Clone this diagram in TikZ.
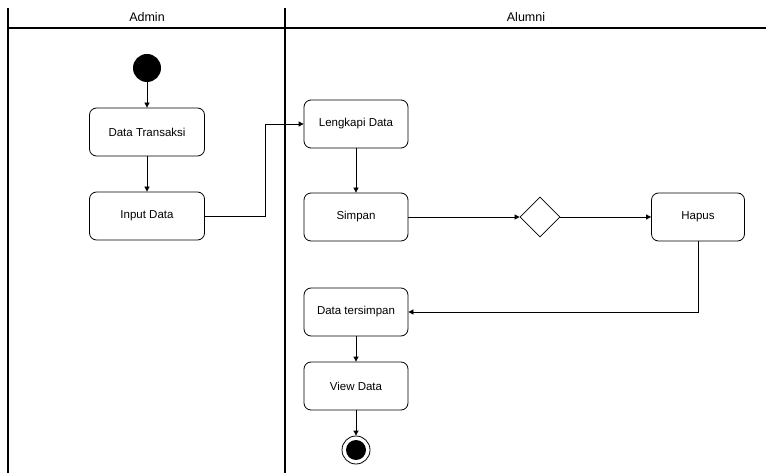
\documentclass[tikz,border=0pt]{standalone}
\usepackage{fontspec}
\setmainfont{Liberation Sans}
\usetikzlibrary{shapes.geometric,arrows.meta}
\begin{document}
\begin{tikzpicture}[x=1pt,y=-1pt,
  act/.style={draw,thick,rounded corners=7pt,minimum width=104pt,minimum height=48pt,inner sep=2pt,font=\fontsize{11.5}{13}\selectfont},
  lane/.style={line width=1.5pt},
  flow/.style={thick,-{Triangle[length=5pt,width=5pt]}},
  lbl/.style={font=\fontsize{12.5}{14}\selectfont}]
\useasboundingbox (0,0) rectangle (766,473);
% swimlanes
\draw[lane] (8,8) -- (8,473);
\draw[lane] (285,8) -- (285,473);
\draw[lane] (8,28) -- (766,28);
\node[lbl] (hadmin) at (147,17) {Admin};
\node[lbl] (halumni) at (526,17) {Alumni};
% nodes
\node[circle,fill=black,minimum size=28pt,inner sep=0] (start) at (147,68) {};
\node[act,minimum width=115pt] (dt) at (147,132) {Data Transaksi};
\node[act,minimum width=115pt] (inp) at (147,216) {Input Data};
\node[act] (lk) at (356,124) {Lengkapi Data};
\node[act] (sp) at (356,217) {Simpan};
\node[draw,thick,diamond,minimum size=40pt,inner sep=0] (dec) at (540,217) {};
\node[act,minimum width=93pt] (hp) at (698,217) {Hapus};
\node[act] (ds) at (356,312) {Data tersimpan};
\node[act] (vd) at (356,386) {View Data};
\node[circle,draw,thick,minimum size=28pt,inner sep=0] (end) at (356,450) {};
\node[circle,fill=black,minimum size=20pt,inner sep=0] (endin) at (end) {};
\coordinate (c1) at (265,216);
\coordinate (c2) at (265,124);
\coordinate (c3) at (698,312);
% connectors
\draw[flow] (start) -- (dt);
\draw[flow] (dt) -- (inp);
\draw[flow] (inp.east) -- (c1) -- (c2) -- (lk.west);
\draw[flow] (lk) -- (sp);
\draw[flow] (sp) -- (dec);
\draw[flow] (dec) -- (hp);
\draw[flow] (hp.south) -- (c3) -- (ds.east);
\draw[flow] (ds) -- (vd);
\draw[flow] (vd) -- (end);
\end{tikzpicture}
\end{document}
